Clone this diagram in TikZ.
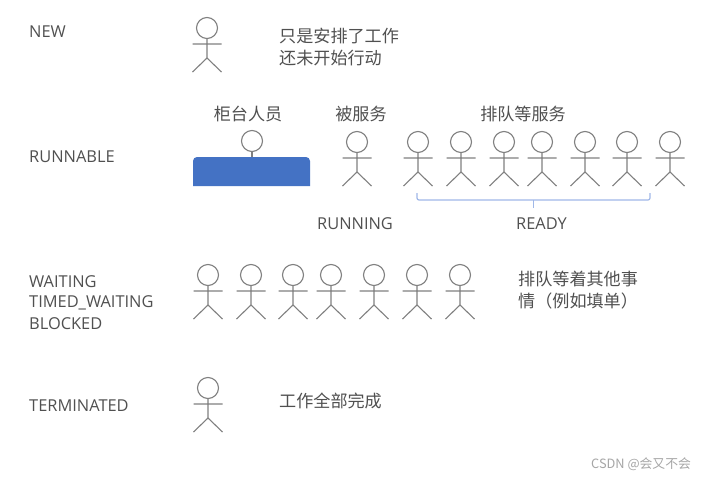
\documentclass[tikz,border=0pt]{standalone}
\usepackage{fontspec}
\setmainfont{Open Sans}
\newfontfamily\cjk{Noto Sans CJK SC}
\definecolor{txt}{HTML}{505050}
\definecolor{fig}{HTML}{808080}
\definecolor{bar}{HTML}{4472C4}
\definecolor{brc}{HTML}{A0B8E8}
\tikzset{
  x=1pt,y=-1pt,
  lab/.style={anchor=west,inner sep=0pt,text=txt,font=\fontsize{16.4}{20}\selectfont},
  zh/.style={inner sep=0pt,text=txt,font=\cjk\fontsize{17.1}{22}\selectfont,align=left},
  person/.pic={
    \draw[fig,line width=1.1pt] (0,0) circle (10.5);
    \draw[fig,line width=1.1pt] (0,10.5) -- (0,30) (-14.5,16) -- (14.5,16)
      (-14.5,44) -- (0,30) -- (14.5,44);
  }
}
\begin{document}
\begin{tikzpicture}
\useasboundingbox (0,0) rectangle (702,477);
\fill[white] (0,0) rectangle (702,477);
% left labels
\node[lab] (lnew) at (29,32) {NEW};
\node[lab] (lrun) at (29,157) {RUNNABLE};
\node[lab] (lw1) at (29,282) {WAITING};
\node[lab] (lw2) at (29,303) {TIMED\_WAITING};
\node[lab] (lw3) at (29,324) {BLOCKED};
\node[lab] (lterm) at (29,406) {TERMINATED};
% row 1
\pic at (207,28) {person};
\node[zh,anchor=west] (tnew) at (279,47) {只是安排了工作\\还未开始行动};
% row 2
\node[zh] (t1) at (248,114) {柜台人员};
\node[zh] (t2) at (361,114) {被服务};
\node[zh] (t3) at (523,114) {排队等服务};
\draw[fig,line width=1.1pt] (252,141) circle (10.5);
\draw[fig,line width=1.1pt] (252,151.5) -- (252,158);
\fill[bar] (193,186) -- (193,161) .. controls (193,158.8) and (194.8,157) .. (197,157)
  -- (306,157) .. controls (308.2,157) and (310,158.8) .. (310,161) -- (310,186) -- cycle;
\pic at (357,142) {person};
\foreach \px in {418,461,504,542,585,627,670} \pic at (\px,142) {person};
\draw[brc,line width=1.2pt,rounded corners=2pt] (417,193) -- (417,200) -- (650,200) -- (650,193);
\draw[brc,line width=1.2pt] (533.5,200) -- (533.5,208);
\node[lab] (lrunning) at (317,224) {RUNNING};
\node[lab] (lready) at (516,224) {READY};
% row 3
\foreach \px in {208,251,293,331,374,417,460} \pic at (\px,275) {person};
\node[zh,anchor=west] (twait) at (518,290) {排队等着其他事\\情（例如填单）};
% row 4
\pic at (208,388) {person};
\node[zh,anchor=west] (tterm) at (279,401) {工作全部完成};
% watermark
\node[anchor=west,inner sep=0pt,text=black!35,font=\cjk\fontsize{12.8}{14}\selectfont] (wm) at (591,464) {CSDN @会又不会};
\end{tikzpicture}
\end{document}
